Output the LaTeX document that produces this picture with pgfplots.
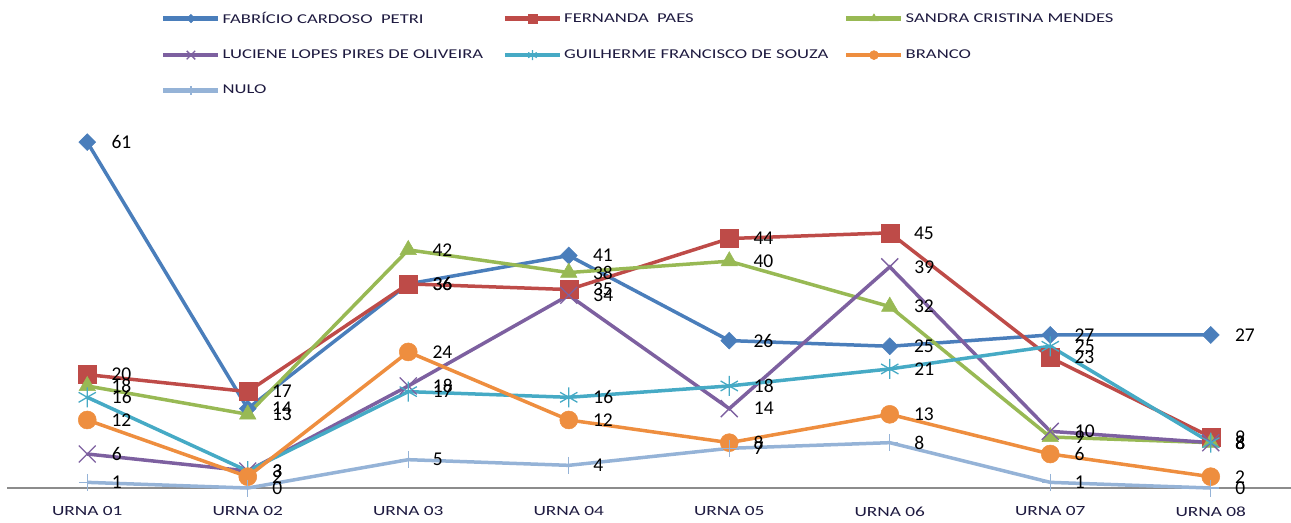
\documentclass[border=0pt]{standalone}
\usepackage{pgfplots}
\pgfplotsset{compat=1.18}
\usepackage{pgfplotstable}
\usepackage{fontspec}
\setmainfont{Carlito}
\newfontfamily\widefont[FakeStretch=1.38]{Carlito}
\definecolor{c1}{HTML}{4A7EBB}
\definecolor{c2}{HTML}{BE4B48}
\definecolor{c3}{HTML}{98B954}
\definecolor{c4}{HTML}{7D60A0}
\definecolor{c5}{HTML}{46AAC5}
\definecolor{c6}{HTML}{EE8E3F}
\definecolor{c7}{HTML}{95B3D7}
\definecolor{axgray}{HTML}{8C8C8C}
\definecolor{tickcol}{HTML}{1E1A40}
\pgfplotstableread{
x fab fer san luc gui bra nul
0 61 20 18 6 16 12 1
1 14 17 13 3 3 2 0
2 36 36 42 18 17 24 5
3 41 35 38 34 16 12 4
4 26 44 40 14 18 8 7
5 25 45 32 39 21 13 8
6 27 23 9 10 25 6 1
7 27 9 8 8 8 2 0
}\data
\begin{document}
\begin{tikzpicture}
\begin{axis}[name=ax, scale only axis, width=1284pt, height=368.55pt,
  xmin=-0.5, xmax=7.5, ymin=0, ymax=65, clip=false,
  axis x line*=bottom, axis y line=none,
  axis line style={draw=axgray, line width=1.2pt, -},
  xtick={0,...,7},
  xticklabels={URNA 01,URNA 02,URNA 03,URNA 04,URNA 05,URNA 06,URNA 07,URNA 08},
  major tick length=0pt, ytick=\empty,
  xticklabel style={font=\widefont\fontsize{14}{15}\selectfont, text=tickcol, yshift=-15pt},
  /pgf/number format/assume math mode=true,
  nodes near coords,
  every node near coord/.append style={anchor=west, xshift=24pt, inner sep=0pt, font=\fontsize{19.5}{20}\selectfont, text=black},
  every axis plot/.append style={line width=3.5pt},
  legend columns=3,
  legend style={at={(rel axis cs:0.1176,1.297)}, anchor=north west, draw=none, fill=none,
    font=\widefont\fontsize{13.5}{15}\selectfont, text=tickcol,
    nodes={inner sep=0pt}, column sep=0pt, row sep=25pt},
  legend cell align=left,
  legend image code/.code={\draw[mark repeat=2,mark phase=2,#1,line width=4.5pt,every mark/.append style={scale=0.5}] plot coordinates {(0pt,0pt) (27.5pt,0pt) (55pt,0pt)};},
]
\addplot[c1, mark=square*, mark size=6pt, mark options={rotate=45, fill=c1, line width=0.5pt}] table[x=x,y=fab] {\data};
\addlegendentry{\hspace{2pt}\makebox[280pt][l]{\rule[-4pt]{0pt}{12pt}FABRÍCIO CARDOSO\ \ PETRI}}
\addplot[c2, mark=square*, mark size=9pt, mark options={fill=c2, line width=0.5pt}] table[x=x,y=fer] {\data};
\addlegendentry{\hspace{2pt}\makebox[280pt][l]{\rule[-4pt]{0pt}{12pt}FERNANDA\ \ PAES}}
\addplot[c3, mark=triangle*, mark size=9.5pt, mark options={fill=c3, line width=0.5pt}] table[x=x,y=san] {\data};
\addlegendentry{\hspace{2pt}\makebox[280pt][l]{\rule[-4pt]{0pt}{12pt}SANDRA CRISTINA MENDES}}
\addplot[c4, mark=x, mark size=12pt, mark options={line width=1.3pt}] table[x=x,y=luc] {\data};
\addlegendentry{\hspace{2pt}\makebox[280pt][l]{\rule[-4pt]{0pt}{12pt}LUCIENE LOPES PIRES DE OLIVEIRA}}
\addplot[c5, mark=asterisk, mark size=10pt, mark options={line width=1.3pt}] table[x=x,y=gui] {\data};
\addlegendentry{\hspace{2pt}\makebox[280pt][l]{\rule[-4pt]{0pt}{12pt}GUILHERME FRANCISCO DE SOUZA}}
\addplot[c6, mark=*, mark size=9pt, mark options={fill=c6, line width=0.5pt}] table[x=x,y=bra] {\data};
\addlegendentry{\hspace{2pt}\makebox[280pt][l]{\rule[-4pt]{0pt}{12pt}BRANCO}}
\addplot[c7, mark=+, mark size=8.5pt, mark options={line width=1.3pt}] table[x=x,y=nul] {\data};
\addlegendentry{\hspace{2pt}\makebox[280pt][l]{\rule[-4pt]{0pt}{12pt}NULO}}
\end{axis}
\pgfresetboundingbox
\path[use as bounding box] ([shift={(-7pt,-34pt)}]ax.south west) rectangle ([shift={(0pt,488pt)}]ax.south east);
\end{tikzpicture}
\end{document}
